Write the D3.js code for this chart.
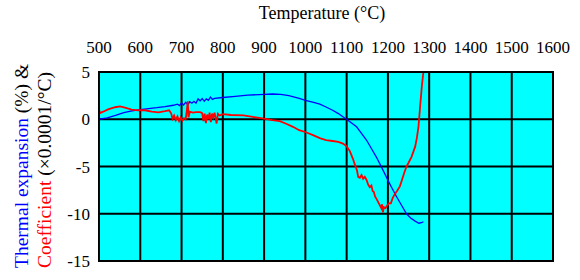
<!DOCTYPE html>
<html>
<head>
<meta charset="utf-8">
<script src="https://cdn.jsdelivr.net/npm/d3@7"></script>
<style>
  body { margin: 0; background: #fff; }
</style>
</head>
<body>
<svg width="580" height="280"></svg>
<script>
// Temperature ticks (top axis) and y ticks
const xTicks = [500, 600, 700, 800, 900, 1000, 1100, 1200, 1300, 1400, 1500, 1600];
const yTicks = [5, 0, -5, -10, -15];

// Thermal expansion (%) - blue
const expTemp = [500, 520, 540, 560, 580, 600, 620, 640, 660, 680, 690, 695, 700, 705, 710, 715, 720, 725, 730, 735,
  740, 745, 750, 755, 760, 765, 770, 775, 780, 800, 830, 860, 900, 920, 940, 960, 985, 1000, 1020, 1035,
  1050, 1066, 1080, 1090, 1100, 1112, 1124, 1136, 1148, 1160, 1172, 1186, 1200, 1210, 1221, 1233, 1245, 1255, 1265, 1275,
  1281, 1286];
const expVal = [0, 0.15, 0.4, 0.7, 0.88, 1.02, 1.12, 1.22, 1.34, 1.48, 1.6, 1.45, 1.75, 1.5, 1.8, 1.55, 1.85, 1.7, 1.9, 1.7,
  2.15, 1.95, 2.2, 1.9, 2.15, 2.0, 2.35, 2.1, 2.2, 2.3, 2.42, 2.55, 2.63, 2.67, 2.64, 2.5, 2.2, 2.0, 1.78, 1.6,
  1.3, 0.95, 0.6, 0.3, 0, -0.4, -0.8, -1.5, -2.2, -3.1, -4.0, -5.2, -6.45, -7.3, -8.2, -9.1, -10.0, -10.45, -10.75, -11.0,
  -10.95, -10.85];

// Coefficient (x0.0001/°C) - red
const coefTemp = [500, 502, 510, 522, 539, 551, 563, 579, 595, 611, 628, 644, 660, 670, 675, 678, 682, 686, 690, 694,
  698, 702, 706, 710, 713, 715, 717, 720, 728, 735, 745, 750, 753, 756, 759, 762, 765, 768, 771, 774,
  777, 780, 785, 788, 792, 800, 820, 850, 880, 900, 920, 938, 955, 970, 985, 1003, 1020, 1035, 1050, 1066,
  1080, 1091, 1100, 1108, 1115, 1120, 1125, 1128, 1132, 1136, 1140, 1144, 1148, 1152, 1156, 1160, 1163, 1166, 1169, 1172,
  1178, 1184, 1186, 1188, 1190, 1194, 1197, 1202, 1207, 1212, 1217, 1222, 1229, 1235, 1240, 1245, 1250, 1257, 1262, 1266,
  1270, 1274, 1278, 1282, 1286, 1288];
const coefVal = [1.1, 0.65, 0.8, 1.05, 1.27, 1.36, 1.22, 1.02, 0.95, 0.95, 0.8, 0.72, 0.85, 0.95, 0.6, 0.05, 0.4, -0.1, 0.3, -0.2,
  0.2, -0.15, 0.1, 0.0, 1.0, 1.9, 0.2, 0.8, 0.7, 0.75, 0.75, 0.65, -0.2, 0.6, -0.4, 0.5, 0.0, 0.7, -0.3, 0.6,
  0.2, 0.7, -0.45, 0.6, 0.4, 0.55, 0.45, 0.4, 0.2, 0.07, -0.1, -0.2, -0.5, -0.8, -1.16, -1.4, -1.7, -2.0, -2.2, -2.3,
  -2.4, -2.57, -2.86, -3.4, -4.16, -4.8, -5.4, -6.1, -6.2, -5.9, -6.3, -6.1, -6.4, -6.9, -7.2, -7.0, -7.6, -7.7, -8.2, -8.4,
  -8.9, -9.4, -9.0, -9.85, -9.3, -9.4, -9.2, -8.9, -8.9, -8.3, -7.9, -7.6, -7.1, -6.3, -5.6, -5.0, -4.6, -4.0, -3.4, -2.9,
  -2.0, -0.8, 1.3, 3.4, 5.0, 6.0];

let svg = d3.select('svg')
  .style('font-family', '"Liberation Serif", "Times New Roman", serif');
let plotL = 99, plotR = 553, plotT = 72, plotB = 261;

let x = d3.scaleLinear().domain([500, 1600]).range([plotL, plotR]);
let y = d3.scaleLinear().domain([-15, 5]).range([plotB, plotT]);

// plot background
svg.append('rect')
  .attr('x', plotL).attr('y', plotT)
  .attr('width', plotR - plotL).attr('height', plotB - plotT)
  .attr('fill', '#00ffff');

// grid
svg.append('g').selectAll('line')
  .data(xTicks).enter().append('line')
  .attr('x1', d => x(d)).attr('x2', d => x(d))
  .attr('y1', plotT).attr('y2', plotB)
  .attr('stroke', '#000').attr('stroke-width', 2);

svg.append('g').selectAll('line')
  .data(yTicks).enter().append('line')
  .attr('x1', plotL).attr('x2', plotR)
  .attr('y1', d => y(d)).attr('y2', d => y(d))
  .attr('stroke', '#000').attr('stroke-width', 2);

// tick labels
svg.append('g').selectAll('text')
  .data(xTicks).enter().append('text')
  .attr('x', d => x(d)).attr('y', 53)
  .attr('text-anchor', 'middle')
  .attr('font-size', 17)
  .text(d => d);

svg.append('g').selectAll('text')
  .data(yTicks).enter().append('text')
  .attr('x', 90).attr('y', d => y(d) + 6)
  .attr('text-anchor', 'end')
  .attr('font-size', 17)
  .text(d => d);

// titles
svg.append('text')
  .attr('x', 322).attr('y', 19)
  .attr('text-anchor', 'middle')
  .attr('font-size', 18)
  .text('Temperature (°C)');

let t1 = svg.append('text')
  .attr('transform', 'translate(28,268) rotate(-90)')
  .attr('font-size', 19.5);
t1.append('tspan').attr('fill', '#0000ff').text('Thermal expansion');
t1.append('tspan').attr('fill', '#000').text(' (%) &');

let t2 = svg.append('text')
  .attr('transform', 'translate(51,268) rotate(-90)')
  .attr('font-size', 19.5);
t2.append('tspan').attr('fill', '#ff0000').text('Coefficient');
t2.append('tspan').attr('fill', '#000').text(' (×0.0001/°C)');

// clip for the curves
svg.append('clipPath').attr('id', 'plot')
  .append('rect')
  .attr('x', plotL).attr('y', plotT)
  .attr('width', plotR - plotL).attr('height', plotB - plotT);

let line = d3.line()
  .x(d => x(d[0]))
  .y(d => y(d[1]));

svg.append('path')
  .datum(d3.zip(expTemp, expVal))
  .attr('clip-path', 'url(#plot)')
  .attr('d', line)
  .attr('fill', 'none')
  .attr('stroke', '#0000ff')
  .attr('stroke-width', 1.3);

svg.append('path')
  .datum(d3.zip(coefTemp, coefVal))
  .attr('clip-path', 'url(#plot)')
  .attr('d', line)
  .attr('fill', 'none')
  .attr('stroke', '#ff0000')
  .attr('stroke-width', 1.8);

// plot border
svg.append('rect')
  .attr('x', plotL).attr('y', plotT)
  .attr('width', plotR - plotL).attr('height', plotB - plotT)
  .attr('fill', 'none')
  .attr('stroke', '#000').attr('stroke-width', 2);
</script>
</body>
</html>
